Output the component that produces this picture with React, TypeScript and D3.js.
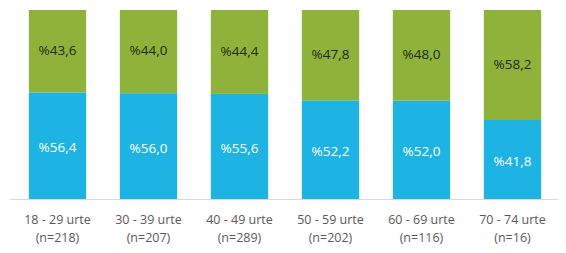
import React from "react";
import * as d3 from "d3";

const categories = ["18 - 29 urte", "30 - 39 urte", "40 - 49 urte", "50 - 59 urte", "60 - 69 urte", "70 - 74 urte"];
const sampleSizes = ["(n=218)", "(n=207)", "(n=289)", "(n=202)", "(n=116)", "(n=16)"];
const blueValues = [56.4, 56.0, 55.6, 52.2, 52.0, 41.8];
const greenValues = [43.6, 44.0, 44.4, 47.8, 48.0, 58.2];

const W = 566;
const H = 253;
const BLUE = "#1db4e3";
const GREEN = "#8fb23a";
const FONT = "'Open Sans', 'Noto Sans', sans-serif";

const fmt = (v: number) => "%" + v.toFixed(1).replace(".", ",");

export default function App() {
  const x = d3.scaleBand<string>().domain(categories).range([12, 558]).paddingInner(0.37).paddingOuter(0.185);
  const y = d3.scaleLinear().domain([0, 100]).range([199, 10]);

  const rows = categories.map((c, i) => ({ c, blue: blueValues[i], green: greenValues[i] }));
  const stack = d3.stack<any>().keys(["blue", "green"])(rows);

  return (
    <svg width={W} height={H} style={{ position: "absolute", left: 0, top: 0, background: "#fff" }} fontFamily={FONT}>
      {stack.map((layer, li) =>
        layer.map((d, i) => {
          const x0 = x(categories[i])!;
          const y0 = y(d[1]);
          const y1 = y(d[0]);
          const val = li === 0 ? blueValues[i] : greenValues[i];
          return (
            <g key={`${li}-${i}`}>
              <rect x={x0} y={y0} width={x.bandwidth()} height={y1 - y0} fill={li === 0 ? BLUE : GREEN} />
              <text
                x={x0 + x.bandwidth() / 2}
                y={(y0 + y1) / 2 + (li === 0 ? 3 : 0)}
                textAnchor="middle"
                dominantBaseline="middle"
                fontSize={13.5}
                fill={li === 0 ? "#ffffff" : "#1e2a10"}
              >
                {fmt(val)}
              </text>
            </g>
          );
        })
      )}
      <line x1={10} x2={558} y1={199.5} y2={199.5} stroke="#d9d9d9" strokeWidth={1} />
      {categories.map((c, i) => (
        <g key={c}>
          <text x={x(c)! + x.bandwidth() / 2} y={221} textAnchor="middle" dominantBaseline="middle" fontSize={12.5} fill="#595959">
            {c}
          </text>
          <text x={x(c)! + x.bandwidth() / 2} y={239} textAnchor="middle" dominantBaseline="middle" fontSize={12.5} fill="#595959">
            {sampleSizes[i]}
          </text>
        </g>
      ))}
    </svg>
  );
}
